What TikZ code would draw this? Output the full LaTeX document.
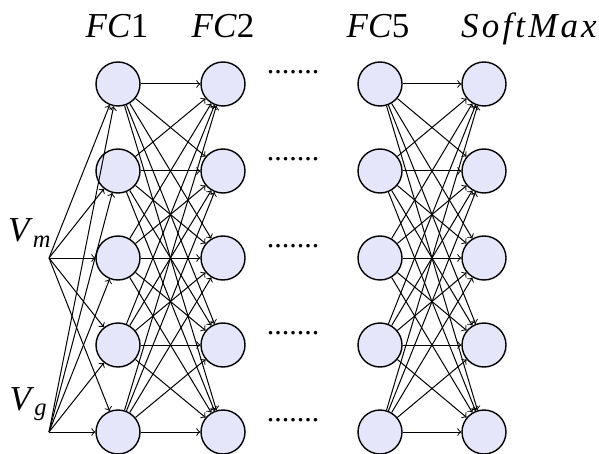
\documentclass[tikz,border=0pt]{standalone}
\usepackage{fontspec}
\setmainfont{Liberation Serif}
\newfontfamily\spacedfont[LetterSpace=9]{Liberation Serif}
\usetikzlibrary{arrows,positioning}
\definecolor{nodefill}{RGB}{230,230,250}

\begin{document}
\begin{tikzpicture}[->, >=to, x=0.5pt, y=-0.5pt, line width=0.5pt]
\tikzstyle{neuron}=[circle, draw=black, fill=nodefill, line width=0.7pt, minimum size=22pt, inner sep=0pt]
\tikzstyle{title}=[font=\fontsize{17.5}{20}\selectfont, anchor=base, inner sep=0pt]
\tikzstyle{dots}=[font=\fontsize{15}{18}\selectfont, inner sep=0pt]
\useasboundingbox (0,0) rectangle (599,454);
% layers
\foreach \i/\y in {1/84,2/171,3/258,4/345,5/432}{
  \node[neuron] (a\i) at (118,\y) {};
  \node[neuron] (b\i) at (223,\y) {};
  \node[neuron] (e\i) at (380,\y) {};
  \node[neuron] (s\i) at (484,\y) {};
  \node[dots]   (d\i) at (293,\y-12) {.......};
}
% titles
\node[title] (t1) at (117,38) {\textit{FC}1};
\node[title] (t2) at (223,38) {\textit{FC}2};
\node[title] (t5) at (378,38) {\textit{FC}5};
\node[title] (t6) at (529,38) {\spacedfont\itshape SoftMax};
% inputs
\coordinate (vm) at (49,258);
\coordinate (vg) at (49,432);
\node[title, anchor=base east] (vml) at (52,242) {\textit{V}\textsubscript{\textit{m}}};
\node[title, anchor=base east] (vgl) at (48,410) {\textit{V}\textsubscript{\textit{g}}};
% connections
\foreach \i in {1,...,5}{
  \draw (vm) -- (a\i);
  \draw (vg) -- (a\i);
  \foreach \j in {1,...,5}{
    \draw (a\i) -- (b\j);
    \draw (e\i) -- (s\j);
  }
}
\end{tikzpicture}
\end{document}
